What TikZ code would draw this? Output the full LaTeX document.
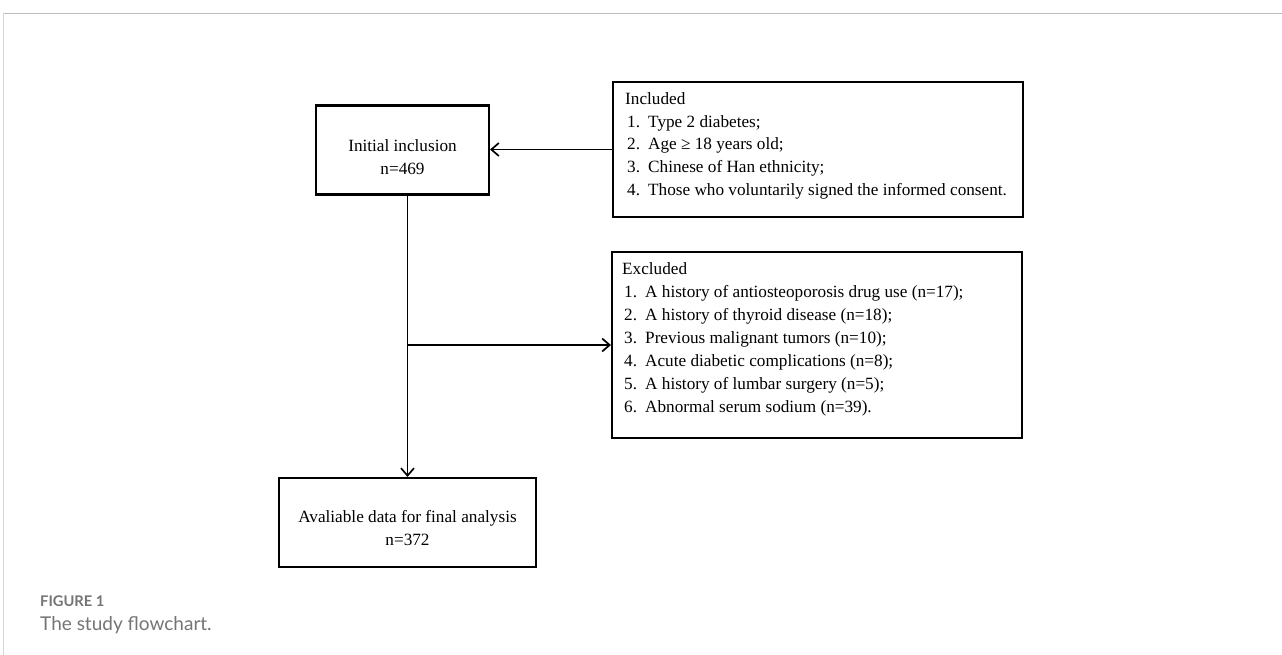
\documentclass[tikz,border=0pt]{standalone}
\usepackage{fontspec}
\setmainfont{Liberation Serif}
\newfontfamily\capfont{Lato}
\usetikzlibrary{arrows.meta}
\definecolor{capgray}{HTML}{757575}
\definecolor{framegray}{HTML}{BDBDBD}
\definecolor{framegrayl}{HTML}{D6D6D6}
\tikzset{
  boxnode/.style={draw, line width=2.1pt, inner sep=0pt},
  lin/.style={font=\fontsize{17.2}{22.7}\selectfont, inner sep=0pt, anchor=base west},
  cline/.style={font=\fontsize{17.2}{22.7}\selectfont, inner sep=0pt, anchor=base},
  arr/.style={line width=1.8pt, -{Straight Barb[length=7.5pt,width=13pt,line width=1.7pt]}},
}
\newcommand{\itm}[2]{\makebox[21pt][l]{#1}#2}
\begin{document}
\begin{tikzpicture}[x=1pt,y=-1pt]
\useasboundingbox (0,0) rectangle (1282,655);
\fill[white] (0,0) rectangle (1282,655);
% frame
\coordinate (fc) at (3.7,13.5);
\coordinate (fr) at (1282,13.5);
\coordinate (fb) at (3.7,655);
\draw[framegray, line width=1.1pt] (fc) -- (fr);
\draw[framegrayl, line width=0.9pt] (fc) -- (fb);

% boxes
\node[boxnode, minimum width=173pt, minimum height=89pt] (init) at (402.5,150) {};
\node[boxnode, minimum width=410pt, minimum height=135pt] (inc) at (818,149.5) {};
\node[boxnode, minimum width=410pt, minimum height=186pt] (excl) at (817,345) {};
\node[boxnode, minimum width=257pt, minimum height=89pt] (final) at (407.5,522.5) {};

% initial text
\node[cline] (t1) at (402.5,151.7) {Initial inclusion};
\node[cline] (t2) at (402.5,174.3) {n=469};

% included text
\node[lin] (i0) at (625,104.5) {Included};
\node[lin] (i1) at (627,127.2) {\itm{1.}{Type 2 diabetes;}};
\node[lin] (i2) at (627,149.9) {\itm{2.}{Age ≥ 18 years old;}};
\node[lin] (i3) at (627,172.6) {\itm{3.}{Chinese of Han ethnicity;}};
\node[lin] (i4) at (627,195.3) {\itm{4.}{Those who voluntarily signed the informed consent.}};

% excluded text
\node[lin] (e0) at (622,274) {Excluded};
\node[lin] (e1) at (624,297) {\itm{1.}{A history of antiosteoporosis drug use (n=17);}};
\node[lin] (e2) at (624,320) {\itm{2.}{A history of thyroid disease (n=18);}};
\node[lin] (e3) at (624,343) {\itm{3.}{Previous malignant tumors (n=10);}};
\node[lin] (e4) at (624,366) {\itm{4.}{Acute diabetic complications (n=8);}};
\node[lin] (e5) at (624,389) {\itm{5.}{A history of lumbar surgery (n=5);}};
\node[lin] (e6) at (624,412) {\itm{6.}{Abnormal serum sodium (n=39).}};

% final text
\node[cline] (f1) at (407.5,522.5) {Avaliable data for final analysis};
\node[cline] (f2) at (407.5,545.5) {n=372};

% connectors
\draw[arr] (inc.west) -- (init.east |- inc.west);
\draw[arr] (init.south -| final.north) -- (final.north);
\draw[arr] (excl.west -| final.north) -- (excl.west);

% caption
\node[anchor=base west, inner sep=0pt, text=capgray, font=\capfont\bfseries\fontsize{14.7}{16}\selectfont] (cap1) at (40,606) {FIGURE 1};
\node[anchor=base west, inner sep=0pt, text=capgray, font=\capfont\fontsize{19}{21}\selectfont] (cap2) at (40,630) {The study flowchart.};
\end{tikzpicture}
\end{document}
